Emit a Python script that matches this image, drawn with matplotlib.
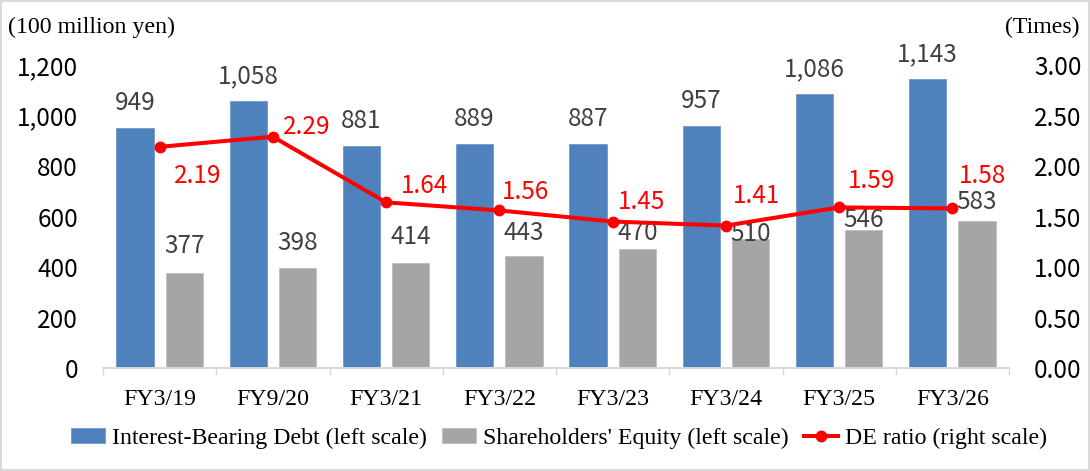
import matplotlib.pyplot as plt
import matplotlib.patches as mpatches
import numpy as np

# data
years = ['FY3/19', 'FY9/20', 'FY3/21', 'FY3/22', 'FY3/23', 'FY3/24', 'FY3/25', 'FY3/26']
debt = [949, 1058, 881, 889, 887, 957, 1086, 1143]
equity = [377, 398, 414, 443, 470, 510, 546, 583]
de_ratio = [2.19, 2.29, 1.64, 1.56, 1.45, 1.41, 1.59, 1.58]

# label placement (pixels)
equity_lbl_rise = [27, 25, 26, 23, 16, 5, 10, 19]
de_lbl_offset = [(38, -29), (34, 10), (38, 16), (26, 18), (29, 20), (31, 30), (32, 26), (30, 32)]

BLUE = '#4F81BD'
GRAY = '#A5A5A5'
RED = '#FF0000'
TXT = '#404040'
SERIF = 'Liberation Serif'
SANS = ['Noto Sans CJK JP', 'DejaVu Sans']
FS = 17.5
FS_SERIF = 17.2

fig = plt.figure(figsize=(10.9, 4.71), dpi=100)
ax = fig.add_axes([103 / 1090, 1 - 368 / 471, 906 / 1090, 303 / 471])
ax2 = ax.twinx()

x = np.arange(len(years))
w = 0.33
off = 0.218
ax.bar(x - off, debt, w, color=BLUE, edgecolor='#6F9AD0', linewidth=0.6, label='Interest-Bearing Debt (left scale)')
ax.bar(x + off, equity, w, color=GRAY, edgecolor='#BDBDBD', linewidth=0.6, label="Shareholders' Equity (left scale)")
ax2.plot(x, de_ratio, color=RED, linewidth=2.9, marker='o', markersize=7.5, label='DE ratio (right scale)')

for i in range(len(years)):
    ax.annotate(f'{debt[i]:,}', (x[i] - off, debt[i]), xytext=(0, 25), textcoords='offset pixels',
                ha='center', va='center', fontsize=FS, color=TXT, family=SANS)
    ax.annotate(f'{equity[i]:,}', (x[i] + off, equity[i]), xytext=(0, equity_lbl_rise[i]),
                textcoords='offset pixels', ha='center', va='center', fontsize=FS, color=TXT, family=SANS)
    ax2.annotate(f'{de_ratio[i]:.2f}', (x[i], de_ratio[i]), xytext=de_lbl_offset[i],
                 textcoords='offset pixels', ha='center', va='center', fontsize=FS, color=RED, family=SANS)

ax.set_xlim(-0.5, len(years) - 0.5)
ax.set_ylim(0, 1200)
ax2.set_ylim(0, 3.0)
ax.set_yticks(np.arange(0, 1201, 200))
ax.set_yticklabels([f'{v:,}' for v in range(0, 1201, 200)], family=SANS, fontsize=FS)
ax2.set_yticks(np.arange(0, 3.01, 0.5))
ax2.set_yticklabels([f'{v:.2f}' for v in np.arange(0, 3.01, 0.5)], family=SANS, fontsize=FS)
ax.set_xticks(x)
ax.set_xticklabels(years, family=SERIF, fontsize=FS_SERIF)
ax.set_xticks(np.arange(-0.5, len(years), 1), minor=True)

ax.tick_params(axis='y', length=0, pad=18)
ax2.tick_params(axis='y', length=0, pad=18)
ax.tick_params(axis='x', which='major', length=0, pad=15)
ax.tick_params(axis='x', which='minor', length=5, color='#D9D9D9', width=1)

for a in (ax, ax2):
    for s in ['top', 'left', 'right']:
        a.spines[s].set_visible(False)
    a.spines['bottom'].set_color('#D9D9D9')
    a.spines['bottom'].set_linewidth(1.2)

fig.text(8 / 1090, 1 - 27 / 471, '(100 million yen)', family=SERIF, fontsize=FS_SERIF, ha='left', va='center')
fig.text(1080 / 1090, 1 - 27 / 471, '(Times)', family=SERIF, fontsize=FS_SERIF, ha='right', va='center')

h1, l1 = ax.get_legend_handles_labels()
h2, l2 = ax2.get_legend_handles_labels()
fig.legend(h1 + h2, l1 + l2, loc='center', bbox_to_anchor=(559 / 1090, 1 - 438 / 471), ncol=3,
           frameon=False, prop={'family': SERIF, 'size': FS_SERIF}, handlelength=1.4, handleheight=0.6,
           handletextpad=0.3, columnspacing=0.65, borderaxespad=0)

fig.patches.append(mpatches.Rectangle((0.001, 0.002), 0.998, 0.996, transform=fig.transFigure,
                                      fill=False, edgecolor='#D9D9D9', linewidth=1.5))

fig.savefig('out.png', dpi=100)
